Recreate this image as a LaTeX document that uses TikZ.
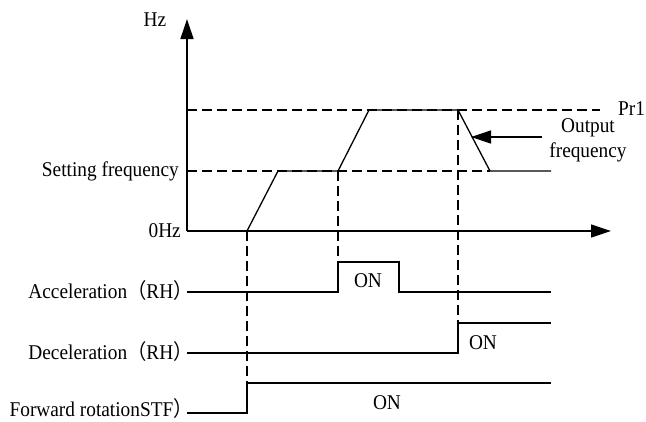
\documentclass[tikz,border=0pt]{standalone}
\usepackage{fontspec}
\setmainfont{Liberation Serif}[FakeStretch=0.92]
\newfontfamily\cjk{Noto Sans CJK SC}[FakeStretch=0.92]
\usetikzlibrary{arrows.meta}
\newcommand{\lp}{\raisebox{0pt}[0pt][0pt]{\cjk （}}
\newcommand{\rp}{\raisebox{0pt}[0pt][0pt]{\cjk ）}\kern-0.42em}
\begin{document}
\begin{tikzpicture}[x=1pt,y=-1pt,
  sig/.style={line width=1.3pt},
  guide/.style={line width=1.3pt, dash pattern=on 10pt off 5pt},
  lbl/.style={font=\fontsize{21}{24}\selectfont, inner sep=0pt},
  bigtip/.style={-{Triangle[length=20pt,width=13pt]}}]
\useasboundingbox (0,0) rectangle (646,421);
% axes
\coordinate (O) at (187,231);
\coordinate (Ytop) at (187,19);
\coordinate (Xend) at (611,231);
\draw[sig,bigtip] (O) -- (Ytop);
\draw[sig,bigtip] (O) -- (Xend);
% curve points
\coordinate (c0) at (247,231);
\coordinate (c1) at (278,171);
\coordinate (c2) at (338,171);
\coordinate (c3) at (369,110);
\coordinate (c4) at (458,110);
\coordinate (c5) at (490,171);
\coordinate (c6) at (551,171);
% guides
\coordinate (g1a) at (187,110);
\coordinate (g1b) at (600,110);
\coordinate (g2a) at (187,171);
\draw[guide] (g1a) -- (g1b);
\draw[guide] (g2a) -- (c5);
% output frequency
\draw[sig] (c0) -- (c1) -- (c2) -- (c3) -- (c4) -- (c5) -- (c6);
% signals
\coordinate (a0) at (187,292); \coordinate (a1) at (338,292); \coordinate (a2) at (338,262);
\coordinate (a3) at (399,262); \coordinate (a4) at (399,292); \coordinate (a5) at (551,292);
\draw[sig] (a0) -- (a1) -- (a2) -- (a3) -- (a4) -- (a5);
\coordinate (d0) at (187,353); \coordinate (d1) at (458,353); \coordinate (d2) at (458,323);
\coordinate (d3) at (551,323);
\draw[sig] (d0) -- (d1) -- (d2) -- (d3);
\coordinate (f0) at (187,413); \coordinate (f1) at (247,413); \coordinate (f2) at (247,383);
\coordinate (f3) at (551,383);
\draw[sig] (f0) -- (f1) -- (f2) -- (f3);
% vertical dashed guides
\draw[guide] (c0) -- (f2);
\draw[guide] (c2) -- (a2);
\draw[guide] (c4) -- (d2);
% output frequency pointer
\coordinate (p0) at (542,137);
\coordinate (p1) at (471,137);
\draw[sig,bigtip] (p0) -- (p1);
% labels
\node[lbl] (hz) at (155,20) {Hz};
\node[lbl,anchor=east] (zero) at (181,231) {0Hz};
\node[lbl,anchor=east] (setf) at (179,171) {Setting frequency};
\node[lbl,anchor=west] (pr1) at (618,109) {Pr1};
\node[lbl] (out1) at (588,128) {Output};
\node[lbl] (out2) at (588,152) {frequency};
\node[lbl,anchor=base east] (acc) at ([xshift=-3pt,yshift=-6pt]a0) {Acceleration\lp RH\rp};
\node[lbl,anchor=base east] (dec) at ([xshift=-3pt,yshift=-6pt]d0) {Deceleration\lp RH\rp};
\node[lbl,anchor=base east] (fwd) at ([xshift=-3pt,yshift=-3.5pt]f0) {Forward rotationSTF\rp};
\node[lbl] (on1) at (368,281) {ON};
\node[lbl] (on2) at (483,343) {ON};
\node[lbl] (on3) at (387,403) {ON};
\end{tikzpicture}
\end{document}
